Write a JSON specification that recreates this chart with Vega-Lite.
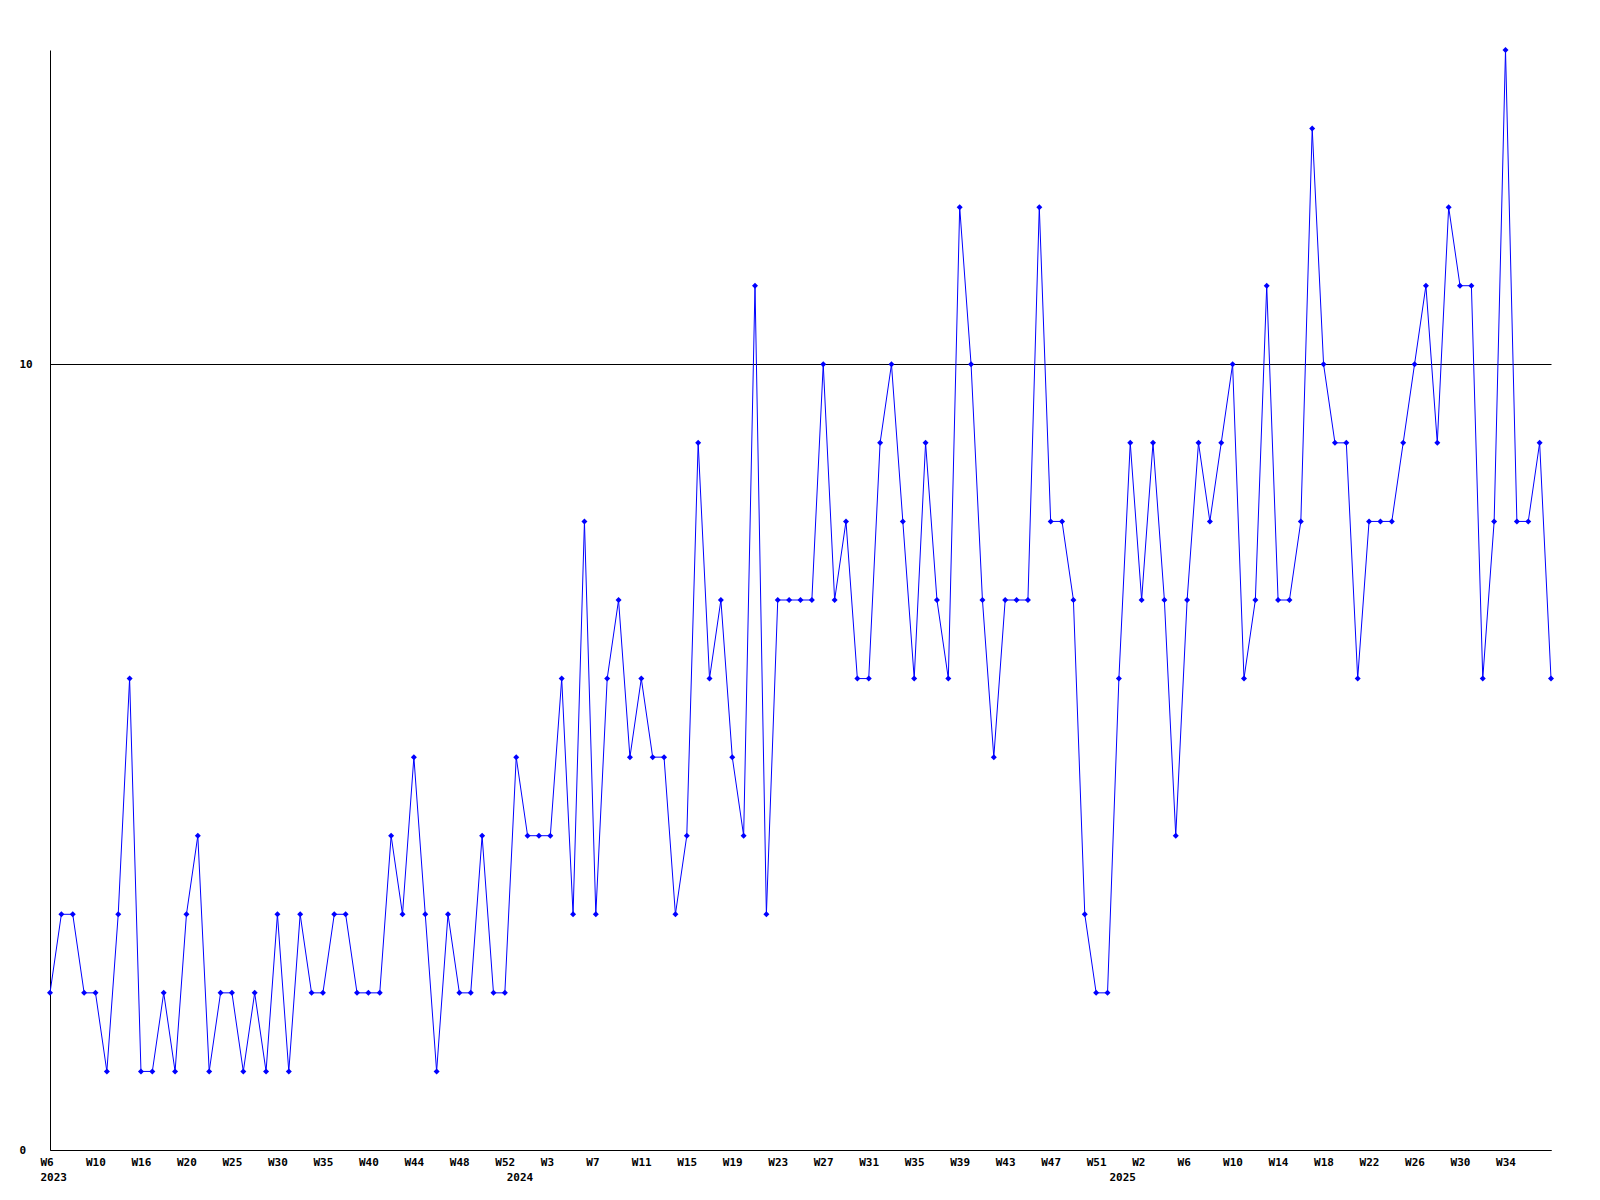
{
  "$schema": "https://vega.github.io/schema/vega-lite/v6.json",
  "width": 1501,
  "height": 1100,
  "autosize": {"type": "none"},
  "padding": {"left": 50, "top": 50, "right": 49, "bottom": 50},
  "background": "white",
  "config": {
    "view": {"stroke": null},
    "axis": {
      "labelFont": "DejaVu Sans Mono",
      "labelFontWeight": "bold",
      "labelFontSize": 11,
      "labelColor": "black",
      "domainColor": "black",
      "domainWidth": 1,
      "ticks": false,
      "title": null,
      "labelFlush": false,
      "labelBound": false,
      "labelOverlap": false
    }
  },
  "data": {
    "values": [
      {"week": "2023-W06", "count": 2},
      {"week": "2023-W07", "count": 3},
      {"week": "2023-W08", "count": 3},
      {"week": "2023-W09", "count": 2},
      {"week": "2023-W10", "count": 2},
      {"week": "2023-W11", "count": 1},
      {"week": "2023-W12", "count": 3},
      {"week": "2023-W14", "count": 6},
      {"week": "2023-W16", "count": 1},
      {"week": "2023-W17", "count": 1},
      {"week": "2023-W18", "count": 2},
      {"week": "2023-W19", "count": 1},
      {"week": "2023-W20", "count": 3},
      {"week": "2023-W21", "count": 4},
      {"week": "2023-W22", "count": 1},
      {"week": "2023-W24", "count": 2},
      {"week": "2023-W25", "count": 2},
      {"week": "2023-W26", "count": 1},
      {"week": "2023-W27", "count": 2},
      {"week": "2023-W29", "count": 1},
      {"week": "2023-W30", "count": 3},
      {"week": "2023-W31", "count": 1},
      {"week": "2023-W32", "count": 3},
      {"week": "2023-W34", "count": 2},
      {"week": "2023-W35", "count": 2},
      {"week": "2023-W36", "count": 3},
      {"week": "2023-W37", "count": 3},
      {"week": "2023-W39", "count": 2},
      {"week": "2023-W40", "count": 2},
      {"week": "2023-W41", "count": 2},
      {"week": "2023-W42", "count": 4},
      {"week": "2023-W43", "count": 3},
      {"week": "2023-W44", "count": 5},
      {"week": "2023-W45", "count": 3},
      {"week": "2023-W46", "count": 1},
      {"week": "2023-W47", "count": 3},
      {"week": "2023-W48", "count": 2},
      {"week": "2023-W49", "count": 2},
      {"week": "2023-W50", "count": 4},
      {"week": "2023-W51", "count": 2},
      {"week": "2023-W52", "count": 2},
      {"week": "2024-W00", "count": 5},
      {"week": "2024-W01", "count": 4},
      {"week": "2024-W02", "count": 4},
      {"week": "2024-W03", "count": 4},
      {"week": "2024-W04", "count": 6},
      {"week": "2024-W05", "count": 3},
      {"week": "2024-W06", "count": 8},
      {"week": "2024-W07", "count": 3},
      {"week": "2024-W08", "count": 6},
      {"week": "2024-W09", "count": 7},
      {"week": "2024-W10", "count": 5},
      {"week": "2024-W11", "count": 6},
      {"week": "2024-W12", "count": 5},
      {"week": "2024-W13", "count": 5},
      {"week": "2024-W14", "count": 3},
      {"week": "2024-W15", "count": 4},
      {"week": "2024-W16", "count": 9},
      {"week": "2024-W17", "count": 6},
      {"week": "2024-W18", "count": 7},
      {"week": "2024-W19", "count": 5},
      {"week": "2024-W20", "count": 4},
      {"week": "2024-W21", "count": 11},
      {"week": "2024-W22", "count": 3},
      {"week": "2024-W23", "count": 7},
      {"week": "2024-W24", "count": 7},
      {"week": "2024-W25", "count": 7},
      {"week": "2024-W26", "count": 7},
      {"week": "2024-W27", "count": 10},
      {"week": "2024-W28", "count": 7},
      {"week": "2024-W29", "count": 8},
      {"week": "2024-W30", "count": 6},
      {"week": "2024-W31", "count": 6},
      {"week": "2024-W32", "count": 9},
      {"week": "2024-W33", "count": 10},
      {"week": "2024-W34", "count": 8},
      {"week": "2024-W35", "count": 6},
      {"week": "2024-W36", "count": 9},
      {"week": "2024-W37", "count": 7},
      {"week": "2024-W38", "count": 6},
      {"week": "2024-W39", "count": 12},
      {"week": "2024-W40", "count": 10},
      {"week": "2024-W41", "count": 7},
      {"week": "2024-W42", "count": 5},
      {"week": "2024-W43", "count": 7},
      {"week": "2024-W44", "count": 7},
      {"week": "2024-W45", "count": 7},
      {"week": "2024-W46", "count": 12},
      {"week": "2024-W47", "count": 8},
      {"week": "2024-W48", "count": 8},
      {"week": "2024-W49", "count": 7},
      {"week": "2024-W50", "count": 3},
      {"week": "2024-W51", "count": 2},
      {"week": "2024-W52", "count": 2},
      {"week": "2025-W00", "count": 6},
      {"week": "2025-W01", "count": 9},
      {"week": "2025-W02", "count": 7},
      {"week": "2025-W03", "count": 9},
      {"week": "2025-W04", "count": 7},
      {"week": "2025-W05", "count": 4},
      {"week": "2025-W06", "count": 7},
      {"week": "2025-W07", "count": 9},
      {"week": "2025-W08", "count": 8},
      {"week": "2025-W09", "count": 9},
      {"week": "2025-W10", "count": 10},
      {"week": "2025-W11", "count": 6},
      {"week": "2025-W12", "count": 7},
      {"week": "2025-W13", "count": 11},
      {"week": "2025-W14", "count": 7},
      {"week": "2025-W15", "count": 7},
      {"week": "2025-W16", "count": 8},
      {"week": "2025-W17", "count": 13},
      {"week": "2025-W18", "count": 10},
      {"week": "2025-W19", "count": 9},
      {"week": "2025-W20", "count": 9},
      {"week": "2025-W21", "count": 6},
      {"week": "2025-W22", "count": 8},
      {"week": "2025-W23", "count": 8},
      {"week": "2025-W24", "count": 8},
      {"week": "2025-W25", "count": 9},
      {"week": "2025-W26", "count": 10},
      {"week": "2025-W27", "count": 11},
      {"week": "2025-W28", "count": 9},
      {"week": "2025-W29", "count": 12},
      {"week": "2025-W30", "count": 11},
      {"week": "2025-W31", "count": 11},
      {"week": "2025-W32", "count": 6},
      {"week": "2025-W33", "count": 8},
      {"week": "2025-W34", "count": 14},
      {"week": "2025-W35", "count": 8},
      {"week": "2025-W36", "count": 8},
      {"week": "2025-W37", "count": 9},
      {"week": "2025-W38", "count": 6}
    ]
  },
  "resolve": {"axis": {"x": "independent", "y": "independent"}},
  "layer": [
    {
      "mark": {"type": "line", "color": "#0000ff", "strokeWidth": 1, "clip": false},
      "encoding": {
        "x": {
          "field": "week",
          "type": "ordinal",
          "sort": null,
          "scale": {"type": "point", "padding": 0},
          "axis": {
            "orient": "bottom",
            "values": ["2023-W06", "2023-W10", "2023-W16", "2023-W20", "2023-W25", "2023-W30", "2023-W35", "2023-W40", "2023-W44", "2023-W48", "2023-W52", "2024-W03", "2024-W07", "2024-W11", "2024-W15", "2024-W19", "2024-W23", "2024-W27", "2024-W31", "2024-W35", "2024-W39", "2024-W43", "2024-W47", "2024-W51", "2025-W02", "2025-W06", "2025-W10", "2025-W14", "2025-W18", "2025-W22", "2025-W26", "2025-W30", "2025-W34"],
            "labelExpr": "'W' + toNumber(slice(datum.value, 6))",
            "labelAngle": 0,
            "labelAlign": "left",
            "labelOffset": -10,
            "labelBaseline": "middle",
            "labelPadding": 12,
            "domain": true,
            "grid": false
          }
        },
        "y": {
          "field": "count",
          "type": "quantitative",
          "scale": {"domain": [0, 14], "nice": false, "zero": true},
          "axis": {
            "orient": "left",
            "values": [0, 10],
            "grid": true,
            "gridColor": "black",
            "gridOpacity": 1,
            "gridWidth": 1,
            "domain": true,
            "labelAlign": "left",
            "labelBaseline": "middle",
            "labelPadding": 31
          }
        }
      }
    },
    {
      "mark": {"type": "point", "shape": "diamond", "filled": true, "size": 36, "color": "#0000ff", "opacity": 1, "clip": false},
      "encoding": {
        "x": {
          "field": "week",
          "type": "ordinal",
          "sort": null,
          "scale": {"type": "point", "padding": 0},
          "axis": {
            "orient": "bottom",
            "values": ["2023-W06", "2024-W00", "2025-W00"],
            "labelExpr": "slice(datum.value, 0, 4)",
            "labelAngle": 0,
            "labelAlign": "left",
            "labelOffset": -10,
            "labelBaseline": "middle",
            "labelPadding": 27,
            "domain": false,
            "grid": false
          }
        },
        "y": {
          "field": "count",
          "type": "quantitative",
          "scale": {"domain": [0, 14], "nice": false, "zero": true},
          "axis": null
        }
      }
    }
  ]
}
